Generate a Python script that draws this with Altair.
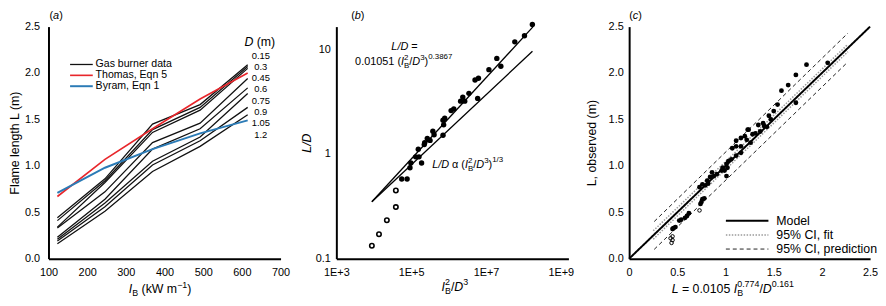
import altair as alt
import pandas as pd

FONT = "Liberation Sans"

# ---------------- Panel (a) data ----------------
IB = [123, 246, 369, 492, 615]
D_LABELS = ["0.15", "0.3", "0.45", "0.6", "0.75", "0.9", "1.05", "1.2"]
L_GAS = [
    [0.44, 0.86, 1.45, 1.66, 2.09],
    [0.41, 0.84, 1.39, 1.63, 2.07],
    [0.34, 0.82, 1.36, 1.60, 2.05],
    [0.33, 0.72, 1.25, 1.46, 1.94],
    [0.23, 0.64, 1.18, 1.40, 1.84],
    [0.21, 0.60, 1.05, 1.31, 1.78],
    [0.19, 0.56, 1.01, 1.27, 1.63],
    [0.16, 0.51, 0.94, 1.21, 1.55],
]
L_THOMAS = [0.67, 1.07, 1.40, 1.72, 2.00]
L_BYRAM = [0.71, 0.98, 1.18, 1.35, 1.49]
SERIES_A = ["Gas burner data", "Thomas, Eqn 5", "Byram, Eqn 1"]
COLORS_A = ["#111111", "#e8262b", "#2b7bb6"]
WIDTHS_A = [1.3, 2.0, 2.0]

# ---------------- Panel (b) data ----------------
B_X = [5.6e4, 7.8e4, 9.3e4, 9.8e4, 1.9e5, 1.32e5, 1.62e5, 1.55e5, 2.24e5, 2.7e5,
       3.2e5, 2.3e5, 3.8e5, 4.1e5, 7.1e5, 7.1e5, 7.9e5, 7.4e5, 1.17e6, 1.38e6,
       2.4e6, 2.1e6, 2.7e6, 6.0e6, 3.5e6, 6.3e6, 5.1e6, 1.2e7, 1.95e7, 2.5e7,
       5.9e7, 1.07e8, 1.74e8]
B_Y = [0.577, 0.577, 0.74, 0.82, 0.82, 0.94, 0.94, 1.11, 1.23, 1.41,
       1.35, 1.28, 1.65, 1.53, 1.51, 2.1, 2.2, 1.9, 2.6, 2.7,
       3.5, 3.2, 3.2, 3.4, 3.8, 5.3, 5.1, 6.4, 8.2, 6.9,
       11.8, 13.5, 17.3]
B_X_OPEN = [8.9e3, 1.38e4, 2.24e4, 3.9e4, 3.9e4]
B_Y_OPEN = [0.133, 0.171, 0.233, 0.311, 0.448]
B_FIT_X = [8.9e3, 1.8e8]
B_FIT_Y = [0.35, 16.4]
B_THEORY_X = [8.9e3, 1.75e8]
B_THEORY_Y = [0.35, 9.6]

# ---------------- Panel (c) data ----------------
C_PRED = [2.06, 1.84, 1.73, 1.65, 1.73, 1.58, 1.54, 1.50, 1.45, 1.47, 1.39, 1.40, 1.34, 1.24,
          1.28, 1.31, 1.16, 1.20, 1.11, 1.16, 1.26, 1.11, 1.16, 1.11, 1.06, 1.03, 1.01, 1.01,
          0.99, 0.96, 0.91, 0.86, 0.84, 0.81, 0.76, 0.73, 0.78, 0.76, 0.74, 0.75, 0.60, 0.58,
          0.54, 0.48, 0.46, 0.45, 1.07, 1.23, 1.22, 0.97, 1.02, 0.88, 0.82, 0.79, 0.62, 0.52,
          1.36, 1.43]
C_OBS = [2.11, 2.09, 1.98, 1.87, 1.68, 1.81, 1.66, 1.59, 1.54, 1.50, 1.46, 1.43, 1.44, 1.39,
         1.34, 1.35, 1.30, 1.32, 1.27, 1.21, 1.25, 1.21, 1.14, 1.11, 1.07, 1.05, 1.02, 0.89,
         0.95, 0.95, 0.91, 0.93, 0.88, 0.84, 0.80, 0.77, 0.65, 0.64, 0.59, 0.61, 0.46, 0.44,
         0.42, 0.34, 0.33, 0.32, 1.19, 1.39, 1.28, 0.98, 0.98, 0.89, 0.81, 0.79, 0.49, 0.41,
         1.37, 1.42]
C_PRED_OPEN = [0.73, 0.45, 0.45, 0.44, 0.43]
C_OBS_OPEN = [0.52, 0.24, 0.20, 0.17, 0.22]
C_KINDS = ["Model", "95% CI, fit", "95% CI, prediction"]
C_MODEL_X = [0, 2.5]
C_MODEL_Y = [0, 2.5]
C_FIT_UP_X = [0.25, 2.27]
C_FIT_UP_Y = [0.30, 2.31]
C_FIT_LO_X = [0.25, 2.27]
C_FIT_LO_Y = [0.21, 2.23]
C_PI_UP_X = [0.26, 2.27]
C_PI_UP_Y = [0.40, 2.43]
C_PI_LO_X = [0.26, 2.27]
C_PI_LO_Y = [0.10, 2.12]

# ---------------- rich text helper ----------------
WID = {'.': 278, ',': 278, ' ': 278, '(': 333, ')': 333, '/': 278, '=': 584, '%': 889,
       '\u2212': 584, '+': 584, 'L': 556, 'D': 722, 'I': 278, 'B': 667, 'E': 667,
       'k': 500, 'W': 944, 'm': 833, '\u03b1': 578, 'a': 556, 'b': 556, 'c': 500}
ONE = pd.DataFrame({"k": [0]})


def tw(s, size):
    return sum(WID.get(ch, 556) for ch in s) / 1000.0 * size


def rich(pieces, x, y, anchor="start"):
    items = []
    total = 0.0
    for p in pieces:
        group = p if isinstance(p, list) else [p]
        w = max(tw(g[0], g[1]) for g in group)
        items.append((total, group))
        total += w
    x0 = x - total / 2 if anchor == "middle" else x
    out = []
    for off, group in items:
        for (t, s, it, dy) in group:
            lead = len(t) - len(t.lstrip(" "))
            txt = t.strip(" ")
            out.append(
                alt.Chart(ONE).mark_text(
                    text=txt, fontSize=s, font=FONT, color="black",
                    fontStyle="italic" if it else "normal",
                    align="left", baseline="alphabetic",
                ).encode(x=alt.value(x0 + off + tw(" " * lead, s)), y=alt.value(y + dy))
            )
    return out


N, T = False, True

# ---------------- Panel (a) ----------------
rows = []
for d, ls in zip(D_LABELS, L_GAS):
    for i, l in zip(IB, ls):
        rows.append({"I": i, "L": l, "series": SERIES_A[0], "line": "D" + d})
for i, l in zip(IB, L_THOMAS):
    rows.append({"I": i, "L": l, "series": SERIES_A[1], "line": "thomas"})
for i, l in zip(IB, L_BYRAM):
    rows.append({"I": i, "L": l, "series": SERIES_A[2], "line": "byram"})
df_a = pd.DataFrame(rows)

leg_a = alt.Legend(title=None, orient="none", legendX=28, legendY=33, padding=0,
                   symbolType="M-4,0H4", symbolSize=33, labelFont=FONT, labelFontSize=10.7,
                   labelColor="black", labelOffset=9, rowPadding=-1.5)

a_lines = alt.Chart(df_a).mark_line().encode(
    x=alt.X("I:Q", scale=alt.Scale(domain=[100, 700], nice=False, zero=False),
            axis=alt.Axis(values=list(range(100, 701, 100)), title=None, labelPadding=8)),
    y=alt.Y("L:Q", scale=alt.Scale(domain=[0, 2.5], nice=False),
            axis=alt.Axis(values=[0, 0.5, 1, 1.5, 2, 2.5], format=".1f",
                          title="Flame length L (m)", titlePadding=3, labelPadding=9)),
    color=alt.Color("series:N", scale=alt.Scale(domain=SERIES_A, range=COLORS_A), legend=leg_a),
    strokeWidth=alt.StrokeWidth("series:N", scale=alt.Scale(domain=SERIES_A, range=WIDTHS_A), legend=leg_a),
    detail="line:N",
)

df_dl = pd.DataFrame({"lab": D_LABELS, "py": [29.3 + 11.43 * k for k in range(len(D_LABELS))]})
a_dlabels = alt.Chart(df_dl).mark_text(font=FONT, fontSize=9.5, color="black", align="center",
                                       baseline="middle").encode(
    x=alt.value(215), y=alt.Y("py:Q", scale=None), text="lab:N")

a_texts = (rich([("(", 11, N, 0), ("a", 11, T, 0), (")", 11, N, 0)], 1, -8)
           + rich([("D", 12.5, T, 0), (" (m)", 12.5, N, 0)], 214, 20, "middle")
           + rich([("I", 12.5, T, 0), ("B", 9, N, 3), (" (kW m", 12.5, N, 0), ("\u22121", 9, N, -5),
                   (")", 12.5, N, 0)], 113, 270, "middle"))
panel_a = alt.layer(a_lines, a_dlabels, *a_texts).properties(width=235, height=235)

# ---------------- Panel (b) ----------------
bx_scale = alt.Scale(type="log", domain=[1e3, 1.6e9], nice=False)
by_scale = alt.Scale(type="log", domain=[0.1, 16.5], nice=False)
bx_axis = alt.Axis(values=[1e3, 1e5, 1e7, 1e9], labelExpr="'1E+' + round(log(datum.value)/LN10)",
                   title=None, labelPadding=8)
by_axis = alt.Axis(values=[0.1, 1, 10], format="~g", title="L/D", titleFontStyle="italic",
                   labelPadding=6, titlePadding=1.5)

df_b = pd.DataFrame({"x": B_X, "y": B_Y})
df_bo = pd.DataFrame({"x": B_X_OPEN, "y": B_Y_OPEN})
df_bl = pd.DataFrame({"x": B_FIT_X + B_THEORY_X, "y": B_FIT_Y + B_THEORY_Y,
                      "line": ["fit"] * 2 + ["theory"] * 2})

b_lines = alt.Chart(df_bl).mark_line(color="black", strokeWidth=1.3).encode(
    x=alt.X("x:Q", scale=bx_scale, axis=bx_axis), y=alt.Y("y:Q", scale=by_scale, axis=by_axis),
    detail="line:N")
b_pts = alt.Chart(df_b).mark_point(filled=True, size=30, color="black", opacity=1).encode(
    x=alt.X("x:Q", scale=bx_scale), y=alt.Y("y:Q", scale=by_scale))
b_open = alt.Chart(df_bo).mark_point(filled=False, size=20, color="black", strokeWidth=1.6,
                                     opacity=1).encode(
    x=alt.X("x:Q", scale=bx_scale), y=alt.Y("y:Q", scale=by_scale))

b_texts = (rich([("(", 11, N, 0), ("b", 11, T, 0), (")", 11, N, 0)], 15, -8)
           + rich([("L/D", 11, T, 0), (" =", 11, N, 0)], 69, 24, "middle")
           + rich([("0.01051 (", 11, N, 0), ("I", 11, T, 0), [("2", 8, N, -5), ("B", 8, N, 3)],
                   ("/", 11, N, 0), ("D", 11, T, 0), ("3", 8, N, -5), (")", 11, N, 0),
                   ("0.3867", 8, N, -6)], 19, 39)
           + rich([("L/D", 11, T, 0), (" \u03b1 (", 11, N, 0), ("I", 11, T, 0),
                   [("2", 8, N, -5), ("B", 8, N, 3)], ("/", 11, N, 0), ("D", 11, T, 0),
                   ("3", 8, N, -5), (")", 11, N, 0), ("1/3", 8, N, -6)], 97, 143)
           + rich([("I", 12.5, T, 0), [("2", 9, N, -6), ("B", 9, N, 3)], ("/", 12.5, N, 0),
                   ("D", 12.5, T, 0), ("3", 9, N, -6)], 120, 268, "middle"))
panel_b = alt.layer(b_lines, b_pts, b_open, *b_texts).properties(width=235, height=235)

# ---------------- Panel (c) ----------------
cx_scale = alt.Scale(domain=[0, 2.5], nice=False)
cy_scale = alt.Scale(domain=[0, 2.5], nice=False)
cx_axis = alt.Axis(values=[0, 0.5, 1, 1.5, 2, 2.5], format="~g", title=None, labelPadding=8)
cy_axis = alt.Axis(values=[0, 0.5, 1, 1.5, 2, 2.5], format=".1f", title="L, observed (m)",
                   labelPadding=6, titlePadding=10)

lrows = []
for kind, name, xs, ys in [(C_KINDS[0], "m", C_MODEL_X, C_MODEL_Y),
                           (C_KINDS[1], "fu", C_FIT_UP_X, C_FIT_UP_Y),
                           (C_KINDS[1], "fl", C_FIT_LO_X, C_FIT_LO_Y),
                           (C_KINDS[2], "pu", C_PI_UP_X, C_PI_UP_Y),
                           (C_KINDS[2], "pl", C_PI_LO_X, C_PI_LO_Y)]:
    for xv, yv in zip(xs, ys):
        lrows.append({"x": xv, "y": yv, "kind": kind, "line": name})
df_cl = pd.DataFrame(lrows)
df_c = pd.DataFrame({"x": C_PRED, "y": C_OBS})
df_co = pd.DataFrame({"x": C_PRED_OPEN, "y": C_OBS_OPEN})

leg_c = alt.Legend(title=None, orient="none", legendX=113, legendY=190, padding=0,
                   symbolType="M-4,0H4", symbolSize=116, labelFont=FONT, labelFontSize=12.5,
                   labelColor="black", labelOffset=23, rowPadding=1.5)

c_lines = alt.Chart(df_cl).mark_line().encode(
    x=alt.X("x:Q", scale=cx_scale, axis=cx_axis), y=alt.Y("y:Q", scale=cy_scale, axis=cy_axis),
    color=alt.Color("kind:N", scale=alt.Scale(domain=C_KINDS, range=["#000000", "#9a9a9a", "#222222"]),
                    legend=leg_c),
    strokeDash=alt.StrokeDash("kind:N", scale=alt.Scale(domain=C_KINDS, range=[[1, 0], [1.5, 1.5], [4, 3]]),
                              legend=leg_c),
    strokeWidth=alt.StrokeWidth("kind:N", scale=alt.Scale(domain=C_KINDS, range=[2, 1, 1]), legend=leg_c),
    detail="line:N",
)
c_pts = alt.Chart(df_c).mark_point(filled=True, size=24, color="black", opacity=1).encode(
    x=alt.X("x:Q", scale=cx_scale), y=alt.Y("y:Q", scale=cy_scale))
c_open = alt.Chart(df_co).mark_point(filled=False, size=13, color="black", strokeWidth=1,
                                     opacity=1).encode(
    x=alt.X("x:Q", scale=cx_scale), y=alt.Y("y:Q", scale=cy_scale))

c_texts = (rich([("(", 11, N, 0), ("c", 11, T, 0), (")", 11, N, 0)], 0, -8)
           + rich([("L", 12.5, T, 0), (" = 0.0105 ", 12.5, N, 0), ("I", 12.5, T, 0),
                   [("0.774", 9, N, -6), ("B", 9, N, 3)], ("/", 12.5, N, 0), ("D", 12.5, T, 0),
                   ("0.161", 9, N, -6)], 105, 270, "middle"))
panel_c = alt.layer(c_lines, c_pts, c_open, *c_texts).properties(width=244, height=235)

chart = alt.hconcat(panel_a, panel_b, panel_c, spacing=10.5).resolve_scale(
    color="independent", strokeWidth="independent", strokeDash="independent"
).resolve_legend(
    color="independent", strokeWidth="independent", strokeDash="independent"
).properties(
    padding=0
).configure(font=FONT).configure_axis(
    domainColor="black", domainWidth=2, ticks=False, tickSize=0, grid=False,
    labelFlush=False,
    labelFont=FONT, labelFontSize=11, labelColor="black",
    titleFont=FONT, titleFontSize=12.5, titleFontWeight="normal", titleColor="black",
).configure_view(stroke=None)

chart.save("out.html", embed_options={"renderer": "svg", "actions": False})
